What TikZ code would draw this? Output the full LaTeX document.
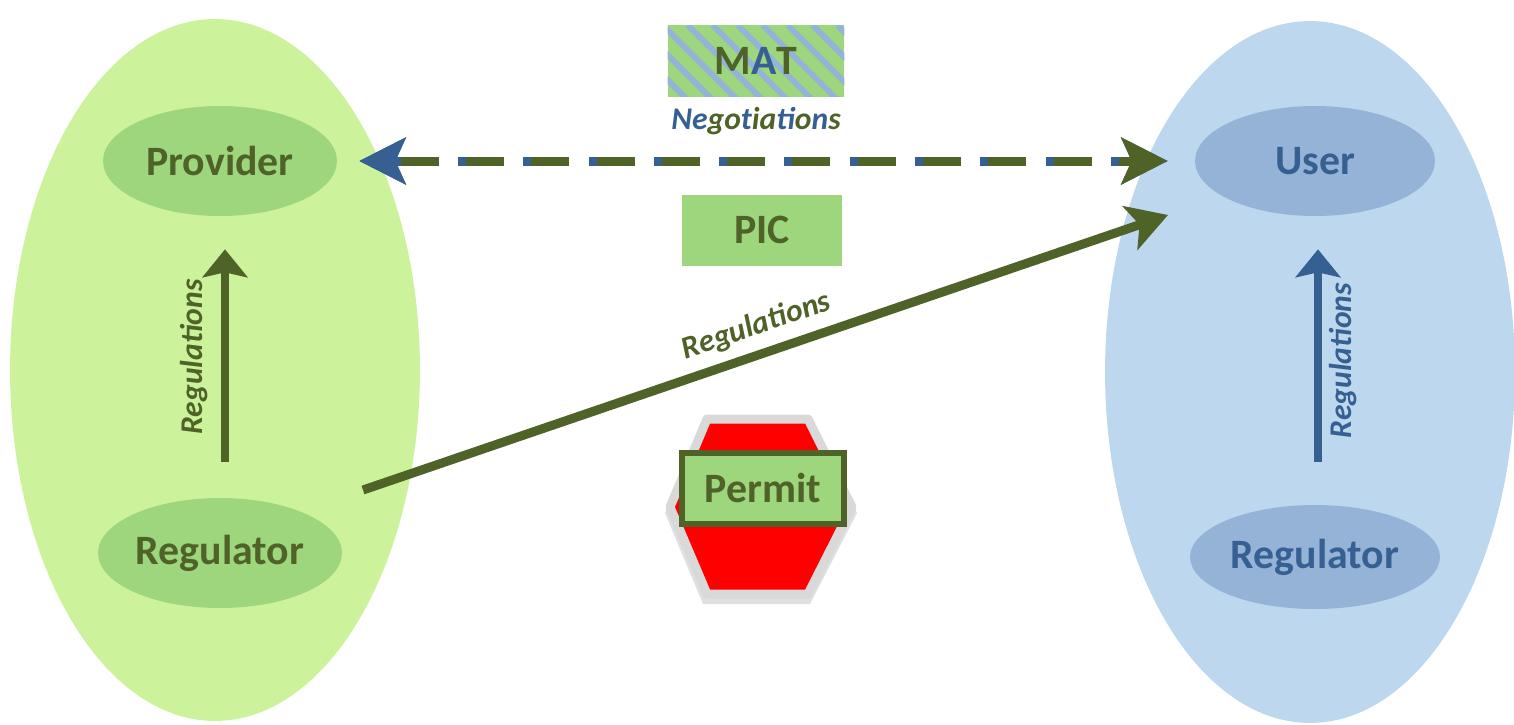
\documentclass[tikz,border=0pt]{standalone}
\usepackage{fontspec}
\setmainfont{Carlito}
\usetikzlibrary{positioning}
\usetikzlibrary{arrows.meta}
\usetikzlibrary{shapes}
\definecolor{zoneGreen}{RGB}{204,242,155}
\definecolor{zoneBlue}{RGB}{189,215,238}
\definecolor{boxGreen}{RGB}{157,214,124}
\definecolor{boxBlue}{RGB}{149,179,215}
\definecolor{textGreen}{RGB}{79,98,40}
\definecolor{textBlue}{RGB}{54,96,146}
\definecolor{signGray}{RGB}{217,217,217}
\tikzset{
        actor/.style={align=center,inner sep=0pt,font=\fontsize{23.8}{28}\selectfont\bfseries},
        % Side areas
        zone_provider/.style={ellipse, fill=zoneGreen, inner sep=0pt, minimum width=8.2cm, minimum height=14.04cm},
        zone_user/.style={ellipse, fill=zoneBlue, inner sep=0pt, minimum width=8.2cm, minimum height=14.04cm},
        % Actors
        actor_green/.style={actor, ellipse, fill=boxGreen, text=textGreen},
        actor_blue/.style={actor, ellipse, fill=boxBlue, text=textBlue},
        % Documents
        doc_box/.style={actor, rectangle, fill=boxGreen, text=textGreen},
        stripe_line/.style={boxBlue, line width=0.12cm},
        % Arrow labels
        label_green/.style={inner sep=2pt, text=textGreen, font=\fontsize{18}{20}\selectfont\bfseries\itshape},
        label_blue/.style={inner sep=2pt, text=textBlue, font=\fontsize{18}{20}\selectfont\bfseries\itshape},
        % Arrows
        big_tip/.style={line width=0.18cm, {Stealth[length=0.92cm, width=0.92cm, inset=0.2cm, color=textBlue]}-{Stealth[length=0.92cm, width=0.92cm, inset=0.2cm]}},
        reg_arrow/.style={line width=0.16cm, -{Stealth[length=0.56cm, width=0.9cm, inset=0.1cm]}},
        % Stop sign
        sign_border/.style={draw=signGray, fill=red, line width=0.18cm, line join=round},
        sign_shadow/.style={fill=black, opacity=0.12}
}
\begin{document}
\begin{tikzpicture}[x=0.02cm, y=-0.02cm]
    \useasboundingbox (0,0) rectangle (1514,724);
    \node[zone_provider] (left_zone) at (215,370) {};
    \node[zone_user] (right_zone) at (1310,372) {};
    \node[actor_green, minimum width=4.68cm, minimum height=2.2cm] (provider) at (220,161) {Provider};
    \node[actor_green, minimum width=4.88cm, minimum height=2.2cm] (reg_left) at (220,553) {Regulator};
    \node[actor_blue, minimum width=4.8cm, minimum height=2.2cm] (user) at (1315,161) {User};
    \node[actor_blue, minimum width=5cm, minimum height=2.08cm] (reg_right) at (1315,557) {Regulator};
    % MAT and PIC
    \node[doc_box, minimum width=3.54cm, minimum height=1.44cm, path picture={
            \foreach \k in {0,...,13}
                \draw[stripe_line] ([xshift={\k*0.5cm-1.6cm}]path picture bounding box.north west) -- ++(1.6cm,-1.6cm);
        }] (mat) at (756,61) {\textcolor{textGreen}{M}\textcolor{textBlue}{A}\textcolor{textGreen}{T}};
    \node[label_green, below=0.12cm of mat] (nego) {\textcolor{textBlue}{Ne}go\textcolor{textBlue}{t}ia\textcolor{textBlue}{ti}o\textcolor{textBlue}{n}s};
    \node[doc_box, minimum width=3.22cm, minimum height=1.42cm] (pic) at (762,230) {PIC};
    % Permit sign
    \fill[sign_shadow, shift={(0,6)}] (703,415) -- (810,415) -- (857,507) -- (810,598) -- (703,598) -- (665,507) -- cycle;
    \draw[sign_border] (707,419) -- (808,419) -- (852,507) -- (808,594) -- (707,594) -- (670,507) -- cycle;
    \node[doc_box, draw=textGreen, line width=0.12cm, minimum width=3.24cm, minimum height=1.42cm] (permit) at (763,488) {Permit};
    % Negotiations arrow
    \draw[big_tip, textBlue, dash pattern=on 0.92cm off 0.386cm, shorten <=0.44cm, shorten >=0.54cm] (provider) -- (user);
    \draw[big_tip, textGreen, dash pattern=on 0.76cm off 0.546cm, dash phase=1.146cm, shorten <=0.44cm, shorten >=0.54cm] (provider) -- (user);
    % Regulations
    \coordinate (reg_out) at (363,490);
    \coordinate (user_in) at (1168,215);
    \draw[textGreen, line width=0.18cm, -{Stealth[length=0.8cm, width=0.92cm, inset=0.2cm]}] (reg_out) -- node[label_green, sloped, above=0.12cm] {Regulations} (user_in);
    \draw[reg_arrow, textGreen, shorten <=0.72cm, shorten >=0.66cm] ([xshift=0.1cm]reg_left.north) -- node[label_green, sloped, above=0.2cm] {Regulations} ([xshift=0.1cm]provider.south);
    \draw[reg_arrow, textBlue, shorten <=0.86cm, shorten >=0.66cm] ([xshift=0.06cm]reg_right.north) -- node[label_blue, sloped, below=0.08cm] {Regulations} ([xshift=0.06cm]user.south);
\end{tikzpicture}
\end{document}
